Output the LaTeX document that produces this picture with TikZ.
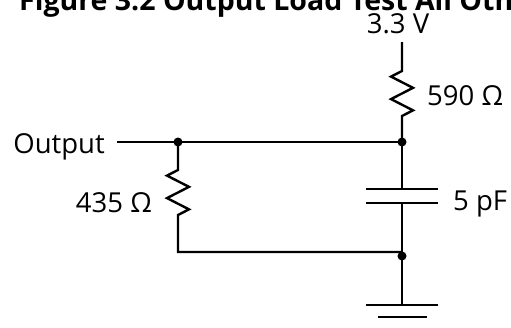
\documentclass[tikz,border=0pt]{standalone}
\usepackage{fontspec}
\setmainfont{Open Sans}
\begin{document}
\begin{tikzpicture}[x=1pt,y=-1pt,line width=2.4pt,font=\fontsize{27.5}{30}\selectfont]
	\useasboundingbox (0,0) rectangle (511,327);
	\coordinate (T) at (402,42);
	\coordinate (RA) at (402,71);
	\coordinate (RB) at (402,116);
	\coordinate (J1) at (402,142);
	\coordinate (J2) at (178,142);
	\coordinate (O) at (117,142);
	\coordinate (LA) at (178,170);
	\coordinate (LB) at (178,215);
	\coordinate (L0) at (178,252);
	\coordinate (B) at (402,252);
	\coordinate (J3) at (402,256);
	\coordinate (C1) at (402,189);
	\coordinate (C2) at (402,203);
	\coordinate (G) at (402,305);
	\node[anchor=base west,inner sep=0,font=\fontsize{28.5}{30}\selectfont\bfseries] (title) at (18,10) {Figure 3.2 Output Load Test All Oth};
	\node[anchor=base,inner sep=0] (vcc) at (398,33) {3.3 V};
	\node[anchor=base east,inner sep=0] (out) at (106,153) {Output};
	\node[anchor=base west,inner sep=0] (rtop) at (426,105) {590 Ω};
	\node[anchor=base east,inner sep=0] (rleft) at (153,212) {435 Ω};
	\node[anchor=base west,inner sep=0] (cap) at (452,210) {5 pF};
	\draw (T) -- (RA) -- ++(-11,5.6) -- ++(22,11.25) -- ++(-22,11.25) -- ++(22,11.25) -- (RB) -- (J1);
	\draw (O) -- (J2) -- (J1) -- (C1);
	\draw (J2) -- (LA) -- ++(-11,5.6) -- ++(22,11.25) -- ++(-22,11.25) -- ++(22,11.25) -- (LB) -- (L0) -- (B);
	\draw (C2) -- (G);
	\draw (366,189) -- (438,189)  (366,203) -- (438,203);
	\draw (366,305) -- (438,305)  (378,317) -- (427,317);
	\fill (J1) circle (4.5)  (J2) circle (4.5)  (J3) circle (4.5);
\end{tikzpicture}
\end{document}
